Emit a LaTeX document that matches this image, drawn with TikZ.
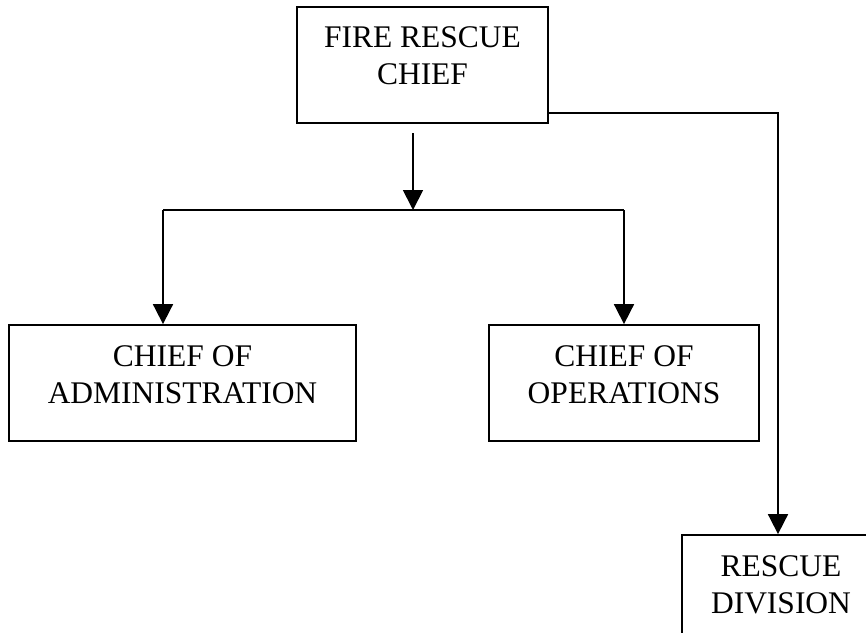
\documentclass[tikz,border=0pt]{standalone}
\usepackage{fontspec}
\setmainfont{Liberation Serif}
\usetikzlibrary{arrows.meta}
\tikzset{
  box/.style={draw=black, line width=1.8pt, rectangle, inner sep=0pt, minimum height=116pt},
  lbl/.style={inner sep=0pt, anchor=north, align=center, font=\fontsize{31.5}{37}\selectfont},
  conn/.style={draw=black, line width=1.8pt},
  arr/.style={conn, -{Triangle[width=20pt,length=20pt]}}
}
\begin{document}
\begin{tikzpicture}[x=1pt, y=-1pt]
\useasboundingbox (0,0) rectangle (866,632);
\clip (0,0) rectangle (866,632);
% boxes
\node[box, minimum width=251pt] (fire) at (422.5,65) {};
\node[box, minimum width=347pt] (admin) at (182.5,383) {};
\node[box, minimum width=270pt] (ops) at (624,383) {};
\node[box, minimum width=198pt] (rescue) at (781,593) {};
% labels
\node[lbl] (tfire) at (422.5,26) {FIRE RESCUE\\CHIEF};
\node[lbl] (tadmin) at (182.5,345) {CHIEF OF\\ADMINISTRATION};
\node[lbl] (tops) at (624,345) {CHIEF OF\\OPERATIONS};
\node[lbl] (tres) at (781,555) {RESCUE\\DIVISION};
% junctions
\coordinate (s) at (413,133);
\coordinate (j) at (413,210);
\coordinate (bl) at (163,210);
\coordinate (br) at (624,210);
\coordinate (fr) at (548,113);
% connectors
\draw[arr] (s) -- (j);
\draw[conn] (bl) -- (br);
\draw[arr] (bl) -- (bl |- admin.north);
\draw[arr] (br) -- (ops.north);
\draw[arr] (fr) -| ([xshift=-3pt]rescue.north);
\end{tikzpicture}
\end{document}
